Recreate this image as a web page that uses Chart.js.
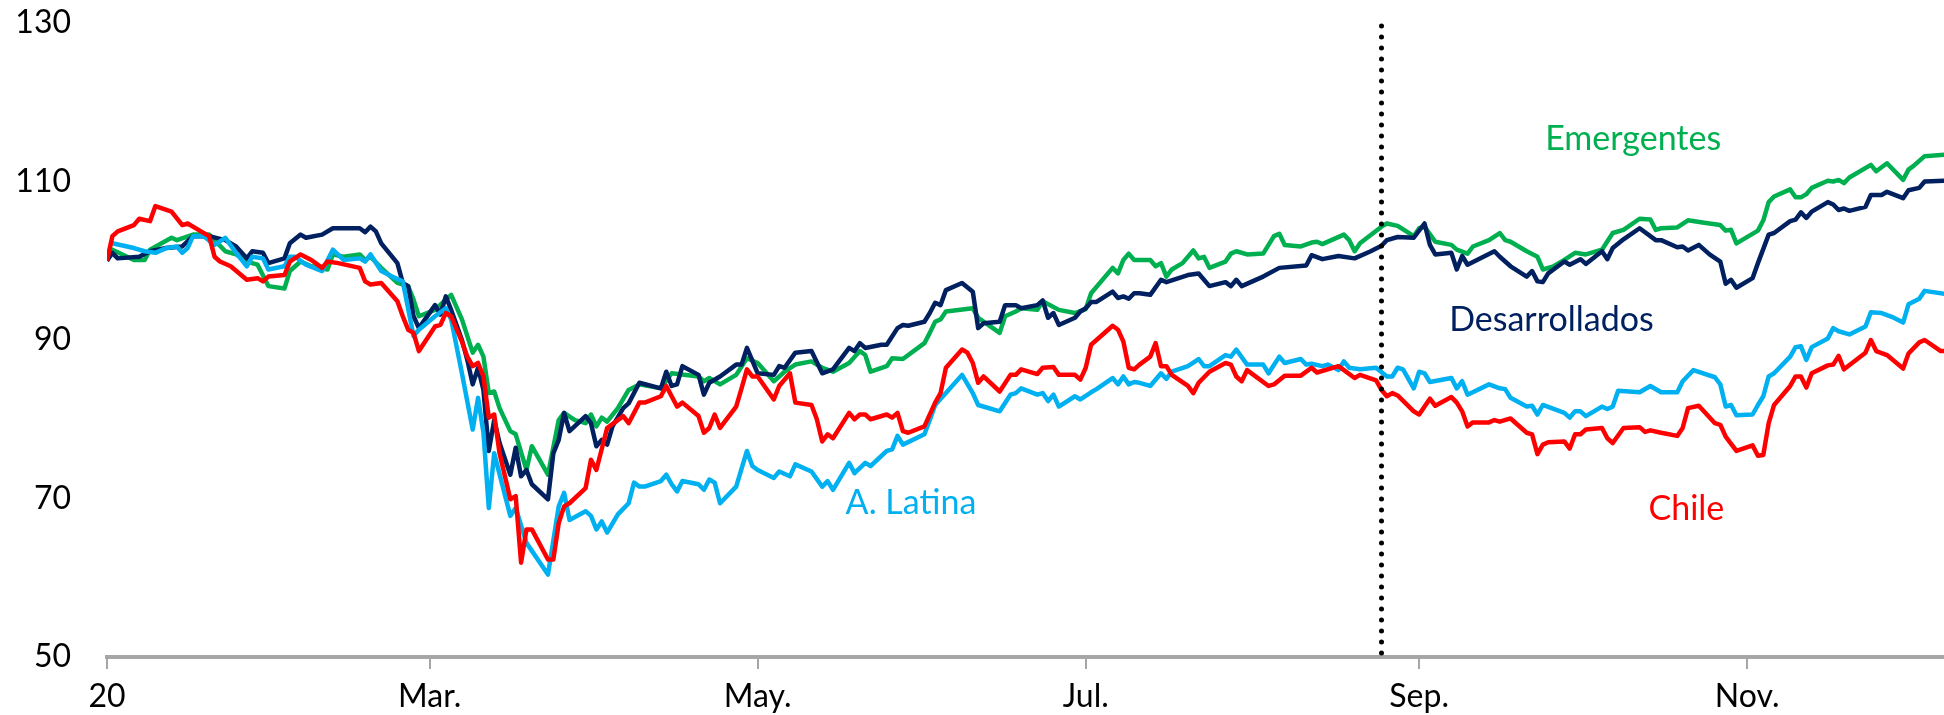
<!DOCTYPE html>
<html>
<head>
<meta charset="utf-8">
<script src="https://cdn.jsdelivr.net/npm/chart.js@4.4.1/dist/chart.umd.min.js"></script>
<style>
html,body{margin:0;padding:0;background:#fff;overflow:hidden}
#wrap{width:1944px;height:715px;position:relative}
</style>
</head>
<body>
<div id="wrap"><canvas id="c" width="1944" height="715"></canvas></div>
<script>
// x values: days since 1 Jan 2020
const monthTickDays = [0, 60, 121, 182, 244, 305];
const monthTickLabels = ["20", "Mar.", "May.", "Jul.", "Sep.", "Nov."];
const yTickValues = [50, 70, 90, 110, 130];
const markerDay = 237;

const emergentes = [[0,100],[1,101.4],[5,100.1],[7,100.1],[8,101.4],[12,102.9],[13,102.6],[16,103.3],[19,103.3],[20,102.6],[22,101.2],[24,100.8],[26,99.9],[28,99.5],[30,96.8],[33,96.5],[34,98.7],[35,99.3],[36,99.9],[38,99.3],[41,98.9],[42,100.8],[44,100.5],[47,100.8],[48,100.1],[49,100.5],[51,99.1],[54,97.2],[56,96.8],[57,95.1],[58,93.0],[61,93.8],[63,95.1],[64,95.7],[66,92.6],[68,88.4],[69,89.4],[70,87.9],[71,83.3],[72,83.5],[73,81.4],[75,78.5],[76,78.1],[78,73.6],[79,76.6],[82,73.0],[84,79.9],[85,80.8],[87,79.9],[89,79.5],[90,80.6],[91,79.1],[92,80.2],[93,79.7],[95,81.4],[97,83.7],[99,84.4],[103,83.9],[105,85.8],[110,85.4],[111,84.8],[112,85.2],[114,84.4],[117,85.6],[119,87.7],[121,87.1],[124,84.8],[126,86.0],[128,86.9],[131,87.3],[133,86.5],[135,86.0],[138,87.1],[140,88.6],[141,88.1],[142,86.0],[145,86.7],[146,87.7],[148,87.6],[152,89.6],[153,90.9],[154,92.3],[155,92.6],[156,93.6],[161,94.0],[162,92.8],[166,90.9],[167,93.0],[169,93.6],[170,94.0],[173,93.8],[174,94.9],[177,93.8],[180,93.4],[182,93.9],[183,95.9],[187,99.1],[188,98.4],[189,100.1],[190,100.9],[191,100.1],[192,100.1],[194,100.1],[195,99.3],[196,99.7],[197,98.0],[198,98.9],[200,99.7],[202,101.3],[203,100.3],[204,100.5],[205,99.1],[208,99.9],[209,100.9],[210,101.2],[212,100.8],[215,100.9],[217,103.1],[218,103.4],[219,102.0],[222,101.8],[224,102.3],[225,102.4],[226,102.1],[230,103.3],[231,102.6],[232,101.2],[233,102.2],[237,104.3],[238,104.7],[240,104.4],[243,103.1],[244,104.1],[245,104.3],[247,102.4],[250,102.0],[251,101.4],[253,100.9],[254,101.8],[257,102.6],[259,103.5],[260,102.6],[261,102.4],[264,101.2],[266,100.5],[267,98.9],[269,99.3],[271,100.1],[273,101.0],[275,100.8],[278,101.4],[280,103.5],[282,103.9],[285,105.3],[287,105.2],[288,103.9],[289,104.1],[292,104.2],[294,105.1],[297,104.8],[300,104.5],[301,103.8],[302,103.9],[303,102.2],[307,103.8],[308,105.1],[309,107.4],[310,108.1],[313,109.0],[314,108.0],[315,108.0],[316,108.4],[317,109.2],[320,110.1],[321,110.0],[322,110.2],[323,109.8],[324,110.5],[328,112.1],[329,111.3],[331,112.3],[334,110.2],[335,111.5],[336,112.0],[338,113.2],[342,113.4]];

const desarrollados = [[0,100],[1,101.0],[2,100.3],[6,100.5],[8,101.2],[11,101.6],[14,101.8],[16,103.1],[19,103.1],[22,102.6],[24,101.8],[26,100.3],[27,101.2],[29,101.0],[30,99.7],[33,100.3],[34,102.2],[36,103.3],[37,102.9],[40,103.3],[42,104.1],[45,104.1],[47,104.1],[48,103.6],[49,104.3],[50,103.7],[51,102.2],[54,99.7],[55,97.2],[56,96.8],[57,93.0],[58,91.5],[61,94.4],[62,93.2],[63,95.5],[64,93.8],[66,90.0],[67,87.5],[68,84.4],[69,86.5],[70,83.7],[71,76.0],[72,79.9],[73,77.0],[75,73.0],[76,76.4],[77,72.8],[78,73.6],[79,71.8],[82,69.9],[83,75.7],[84,77.4],[85,80.8],[86,78.5],[89,80.4],[90,79.5],[91,76.6],[92,77.4],[93,76.8],[94,79.1],[96,81.4],[97,82.0],[99,84.6],[103,83.9],[104,86.0],[105,84.2],[106,84.4],[107,86.7],[110,85.6],[111,83.1],[112,84.6],[114,85.4],[117,86.9],[118,86.9],[119,89.0],[121,85.8],[124,85.6],[125,86.7],[126,86.5],[128,88.4],[131,88.6],[133,85.8],[135,86.3],[138,89.0],[139,88.6],[140,89.6],[141,89.0],[144,89.4],[145,89.4],[147,91.5],[148,91.9],[149,91.8],[152,92.3],[153,93.4],[154,94.7],[155,94.4],[156,96.3],[159,97.2],[161,96.1],[162,91.5],[163,92.1],[166,92.3],[167,94.4],[169,94.4],[170,94.0],[173,94.4],[174,95.0],[175,92.8],[176,93.4],[177,91.9],[180,92.8],[181,93.6],[182,94.0],[183,94.8],[184,94.8],[187,96.1],[188,95.3],[189,95.5],[190,95.2],[191,95.9],[192,95.9],[194,95.7],[196,97.6],[197,97.3],[201,98.2],[203,98.4],[205,96.8],[208,97.3],[209,96.8],[210,97.6],[211,96.8],[215,98.0],[218,99.1],[223,99.4],[224,100.7],[226,100.2],[229,100.6],[232,100.3],[235,101.2],[237,101.9],[238,102.6],[240,103.0],[243,102.9],[245,104.7],[246,102.0],[247,100.8],[250,101.0],[251,98.9],[252,100.6],[253,99.5],[258,101.2],[259,100.5],[261,99.3],[264,98.0],[265,98.7],[266,97.4],[267,97.3],[268,98.4],[271,99.9],[272,99.5],[274,100.2],[275,99.6],[278,101.2],[279,100.2],[280,101.6],[282,102.7],[285,104.1],[288,102.6],[289,102.6],[292,101.7],[293,101.8],[294,101.3],[296,102.0],[298,100.8],[300,99.9],[301,97.1],[302,97.6],[303,96.6],[306,97.8],[307,99.7],[309,103.3],[310,103.5],[313,105.0],[314,105.2],[315,106.1],[316,105.4],[317,106.2],[320,107.4],[321,107.1],[322,106.4],[323,106.6],[324,106.3],[327,106.8],[328,108.3],[330,108.3],[331,108.7],[334,107.9],[335,108.9],[337,109.2],[338,110.0],[342,110.1]];

const aLatina = [[1,102.2],[5,101.6],[7,101.2],[9,101.0],[11,101.6],[13,101.8],[14,101.0],[15,101.6],[16,103.1],[18,103.1],[20,102.0],[22,102.9],[24,101.0],[26,99.3],[27,100.5],[29,100.3],[30,98.9],[33,99.3],[34,100.5],[35,100.5],[37,99.5],[40,98.7],[42,101.4],[44,100.1],[47,100.3],[48,99.9],[49,100.8],[51,98.7],[53,98.0],[55,97.4],[57,90.5],[58,91.3],[61,93.0],[63,94.0],[64,92.6],[66,85.8],[68,78.7],[69,82.7],[70,78.3],[71,68.8],[72,75.7],[75,67.8],[76,68.8],[78,64.4],[82,60.4],[84,69.0],[85,70.7],[86,67.3],[89,68.4],[90,67.8],[91,66.1],[92,67.1],[93,65.7],[95,68.0],[97,69.4],[98,72.0],[99,71.5],[100,71.5],[103,72.2],[104,73.0],[105,71.8],[106,70.9],[107,72.2],[110,71.8],[111,71.1],[112,72.4],[113,72.0],[114,69.4],[117,71.5],[119,76.0],[120,74.1],[121,73.6],[124,72.6],[125,73.4],[127,72.8],[128,74.3],[131,73.4],[133,71.5],[134,72.2],[135,71.1],[138,74.5],[139,73.2],[141,74.5],[142,74.1],[145,76.0],[146,76.2],[147,77.9],[148,76.8],[152,78.1],[153,79.9],[154,81.8],[156,83.3],[159,85.6],[161,83.3],[162,81.8],[166,81.0],[168,83.1],[169,83.3],[170,83.9],[173,83.1],[174,83.3],[175,82.3],[176,83.1],[177,81.6],[180,82.9],[181,82.5],[183,83.4],[184,83.8],[187,85.2],[188,84.4],[189,85.4],[190,84.4],[191,84.7],[192,84.6],[194,84.2],[196,85.8],[197,85.1],[198,86.0],[201,86.7],[203,87.6],[204,86.7],[205,86.7],[208,88.1],[209,87.9],[210,88.8],[212,86.9],[215,86.9],[216,85.8],[218,87.9],[219,87.1],[222,87.6],[223,86.9],[224,87.0],[226,86.7],[227,86.9],[229,86.2],[230,87.3],[231,86.5],[233,86.3],[236,86.5],[238,85.4],[239,85.4],[240,86.5],[241,86.3],[243,83.9],[244,86.0],[245,85.8],[246,84.7],[250,85.2],[251,83.9],[252,84.8],[253,83.1],[257,84.4],[259,83.9],[260,83.8],[261,82.7],[264,81.6],[265,81.7],[266,80.6],[267,81.8],[271,80.8],[272,80.2],[273,81.0],[274,81.0],[275,80.4],[278,81.6],[279,81.3],[280,81.6],[281,83.6],[285,83.4],[287,84.2],[289,83.4],[292,83.4],[293,84.8],[295,86.2],[299,85.3],[300,84.4],[301,81.6],[302,81.8],[303,80.5],[306,80.6],[307,81.8],[308,82.9],[309,85.4],[310,85.8],[313,87.9],[314,89.1],[315,89.2],[316,87.5],[317,89.1],[320,90.2],[321,91.5],[322,91.1],[324,90.7],[327,91.7],[328,93.5],[330,93.4],[332,92.9],[334,92.2],[335,94.5],[337,95.2],[338,96.2],[342,95.8]];

const chile = [[0,100],[1,103.1],[2,103.7],[5,104.5],[6,105.3],[8,105.0],[9,106.9],[12,106.2],[14,104.5],[15,104.7],[17,103.9],[19,103.1],[20,100.5],[21,99.9],[23,99.3],[26,97.6],[28,97.8],[29,97.4],[30,98.0],[33,98.2],[34,99.9],[36,100.8],[38,100.1],[40,99.1],[41,99.9],[43,99.7],[47,99.1],[48,97.4],[49,97.0],[51,97.2],[54,94.9],[55,93.0],[56,91.3],[57,90.9],[58,88.6],[61,91.7],[62,91.9],[63,93.4],[64,93.0],[66,89.8],[67,87.9],[68,86.7],[69,87.1],[70,85.4],[71,80.2],[72,80.6],[73,75.7],[75,69.9],[76,70.3],[77,61.9],[78,66.1],[79,66.1],[82,62.3],[83,62.3],[84,66.9],[85,69.0],[86,69.4],[89,71.3],[90,74.9],[91,73.6],[93,78.9],[96,80.4],[97,79.5],[99,82.1],[100,82.1],[103,82.9],[104,84.2],[105,82.9],[106,81.6],[107,82.1],[110,80.4],[111,78.3],[112,78.9],[113,80.6],[114,78.9],[117,81.6],[118,83.9],[119,86.3],[120,85.4],[121,85.4],[124,82.5],[125,84.2],[127,85.8],[128,82.1],[131,81.8],[132,80.0],[133,77.2],[134,78.1],[135,77.6],[138,80.8],[139,80.0],[140,80.6],[141,80.6],[142,80.0],[145,80.6],[146,80.2],[147,80.8],[148,78.5],[149,78.3],[152,79.1],[154,82.1],[155,83.3],[156,86.5],[159,88.8],[160,88.4],[161,87.1],[162,84.6],[163,85.4],[166,83.5],[168,85.6],[169,85.6],[170,86.3],[173,85.7],[174,86.5],[176,86.6],[177,85.6],[180,85.6],[181,85.0],[182,86.5],[183,89.4],[187,91.8],[188,91.3],[189,89.8],[190,86.5],[191,86.3],[192,86.9],[194,87.9],[195,89.6],[196,86.7],[197,86.7],[198,85.6],[201,84.2],[202,83.3],[203,84.6],[205,86.0],[208,87.1],[209,86.9],[210,85.4],[211,84.8],[212,86.2],[216,84.2],[217,84.4],[219,85.5],[222,85.5],[224,86.5],[225,85.9],[229,86.7],[232,85.2],[233,85.6],[236,84.9],[237,83.7],[238,82.9],[239,83.3],[240,83.0],[243,81.0],[244,80.6],[246,82.6],[247,81.7],[250,82.8],[251,82.1],[252,81.0],[253,79.1],[254,79.6],[257,79.6],[258,79.9],[259,79.7],[261,80.1],[264,78.3],[265,78.1],[266,75.6],[267,76.8],[268,77.1],[271,77.2],[272,76.3],[273,78.1],[274,78.1],[275,78.7],[278,78.9],[279,77.6],[280,77.0],[282,78.9],[285,79.0],[286,78.4],[287,78.6],[289,78.3],[292,77.9],[293,78.9],[294,81.4],[296,81.7],[299,79.5],[300,79.3],[301,77.8],[303,76.0],[306,76.7],[307,75.4],[308,75.5],[309,79.5],[310,81.8],[313,84.2],[314,85.4],[315,85.4],[316,84.0],[317,85.8],[320,86.8],[321,86.9],[322,88.0],[323,86.3],[327,88.4],[328,90.0],[329,88.6],[331,88.1],[334,86.4],[335,88.3],[337,89.7],[338,90.0],[341,88.6],[342,88.6]];

const seriesNames = ["Chile", "A. Latina", "Desarrollados", "Emergentes"];
const seriesColors = ["#FF0000", "#00B0F0", "#002060", "#00B050"];
const seriesData = [chile, aLatina, desarrollados, emergentes];

// in-chart series labels, anchored in data coordinates (day, index level of text baseline)
const seriesLabelAnchors = [
  {name: "Emergentes", day: 283.8, value: 114.0},
  {name: "Desarrollados", day: 268.6, value: 91.1},
  {name: "Chile", day: 293.7, value: 67.3},
  {name: "A. Latina", day: 149.5, value: 68.0}
];

const FONT = "Lato, 'Open Sans', sans-serif";

const markerPlugin = {
  id: 'marker',
  afterDatasetsDraw(chart) {
    const {ctx, chartArea, scales: {x, y}} = chart;
    const px = Math.round(x.getPixelForValue(markerDay)) + 0.5;
    ctx.save();
    ctx.strokeStyle = '#000';
    ctx.lineWidth = 5;
    ctx.lineCap = 'round';
    ctx.setLineDash([0, 11]);
    ctx.beginPath();
    ctx.moveTo(px, y.getPixelForValue(130) + 3);
    ctx.lineTo(px, chartArea.bottom - 3);
    ctx.stroke();
    ctx.restore();
  }
};

const labelPlugin = {
  id: 'seriesLabels',
  afterDraw(chart) {
    const {ctx, scales: {x, y}} = chart;
    ctx.save();
    ctx.font = "34px " + FONT;
    ctx.textAlign = 'center';
    ctx.textBaseline = 'alphabetic';
    seriesLabelAnchors.forEach(l => {
      const i = seriesNames.indexOf(l.name);
      ctx.fillStyle = seriesColors[i];
      ctx.fillText(l.name, x.getPixelForValue(l.day), y.getPixelForValue(l.value));
    });
    ctx.restore();
  }
};

new Chart(document.getElementById('c'), {
  type: 'line',
  data: {
    datasets: seriesNames.map((n, i) => ({
      label: n,
      data: seriesData[i].map(([d, v]) => ({x: d, y: v})),
      borderColor: seriesColors[i],
      backgroundColor: seriesColors[i],
      borderWidth: 4.5,
      pointRadius: 0,
      tension: 0,
      fill: false,
      borderJoinStyle: 'round'
    }))
  },
  options: {
    responsive: false,
    animation: false,
    devicePixelRatio: 1,
    layout: {padding: {top: 0, right: 0, left: 0, bottom: 0}},
    plugins: {legend: {display: false}, tooltip: {enabled: false}},
    scales: {
      x: {
        type: 'linear',
        min: 0,
        max: 341.6,
        afterBuildTicks: s => { s.ticks = monthTickDays.map(v => ({value: v})); },
        afterFit: s => { s.height = 58; },
        grid: {display: true, drawOnChartArea: false, drawTicks: true, tickLength: 12, color: '#A6A6A6', lineWidth: 2},
        border: {display: true, color: '#A6A6A6', width: 4},
        ticks: {
          autoSkip: false, maxRotation: 0, padding: 8, color: '#000',
          font: {family: FONT, size: 32},
          callback: v => { const k = monthTickDays.indexOf(v); return k >= 0 ? monthTickLabels[k] : ''; }
        }
      },
      y: {
        min: 50,
        max: 130,
        afterBuildTicks: s => { s.ticks = yTickValues.map(v => ({value: v})); },
        afterFit: s => { s.width = 107; s.paddingTop = 23; s.paddingBottom = 0; },
        grid: {display: false, drawTicks: false},
        border: {display: false},
        ticks: {padding: 36, color: '#000', font: {family: FONT, size: 32}}
      }
    }
  },
  plugins: [markerPlugin, labelPlugin]
});
</script>
</body>
</html>
